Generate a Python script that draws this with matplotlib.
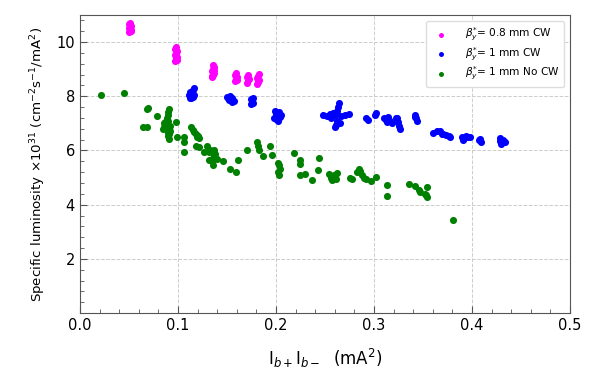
import matplotlib
matplotlib.use("Agg")
import matplotlib.pyplot as plt
from matplotlib.ticker import MultipleLocator

# Series: beta_y* = 0.8 mm CW
cw08_x = [0.050, 0.051, 0.052, 0.050, 0.051, 0.052, 0.050, 0.051, 0.052, 0.051,
          0.097, 0.098, 0.099, 0.097, 0.098, 0.099, 0.097, 0.098, 0.099, 0.098,
          0.135, 0.136, 0.137, 0.135, 0.136, 0.137, 0.136, 0.135, 0.137,
          0.158, 0.159, 0.160, 0.158, 0.159, 0.160,
          0.170, 0.171, 0.172, 0.170, 0.171,
          0.181, 0.182, 0.183, 0.181, 0.182, 0.183]
cw08_y = [10.35, 10.40, 10.45, 10.50, 10.55, 10.60, 10.65, 10.70, 10.42, 10.48,
          9.30, 9.38, 9.45, 9.52, 9.60, 9.68, 9.75, 9.82, 9.35, 9.50,
          8.70, 8.78, 8.85, 8.92, 9.00, 9.08, 9.15, 8.75, 8.95,
          8.55, 8.62, 8.70, 8.78, 8.85, 8.60,
          8.50, 8.58, 8.65, 8.72, 8.78,
          8.45, 8.52, 8.60, 8.68, 8.75, 8.82]

# Series: beta_y* = 1 mm CW
cw1_x = [0.112, 0.113, 0.114, 0.112, 0.115, 0.116, 0.113, 0.111, 0.114, 0.115, 0.116,
         0.151, 0.153, 0.155, 0.152, 0.157, 0.155, 0.150,
         0.175, 0.176, 0.177, 0.175, 0.177,
         0.199, 0.200, 0.201, 0.203, 0.205, 0.200, 0.202, 0.198, 0.204,
         0.248, 0.252, 0.256, 0.260, 0.262, 0.263, 0.264, 0.262, 0.261, 0.260,
         0.266, 0.270, 0.274, 0.258, 0.265, 0.255,
         0.292, 0.294, 0.302, 0.301,
         0.310, 0.312, 0.314, 0.316, 0.318, 0.322, 0.324, 0.325, 0.326, 0.323, 0.313,
         0.342, 0.343, 0.344, 0.342,
         0.360, 0.364, 0.367, 0.370, 0.373, 0.376, 0.378, 0.369,
         0.390, 0.392, 0.394, 0.396, 0.398, 0.391,
         0.407, 0.409, 0.408,
         0.428, 0.430, 0.432, 0.434, 0.429]
cw1_y = [7.92, 8.00, 8.08, 8.15, 8.22, 8.32, 7.95, 8.05, 8.12, 7.98, 8.05,
         7.95, 8.02, 7.92, 7.85, 7.82, 7.78, 7.98,
         7.90, 7.82, 7.74, 7.70, 7.95,
         7.45, 7.35, 7.25, 7.40, 7.30, 7.15, 7.08, 7.20, 7.22,
         7.30, 7.28, 7.20, 7.30, 7.45, 7.60, 7.75, 7.10, 6.95, 6.85,
         7.28, 7.30, 7.35, 7.38, 7.00, 7.35,
         7.20, 7.14, 7.38, 7.32,
         7.20, 7.12, 7.22, 7.10, 7.00, 7.18, 7.05, 6.90, 6.80, 7.20, 7.05,
         7.32, 7.20, 7.10, 7.25,
         6.65, 6.70, 6.72, 6.62, 6.58, 6.55, 6.50, 6.60,
         6.50, 6.45, 6.55, 6.48, 6.50, 6.40,
         6.38, 6.32, 6.42,
         6.35, 6.25, 6.40, 6.32, 6.45]

# Series: beta_y* = 1 mm No CW
nocw_x = [0.021, 0.0445, 0.069, 0.068, 0.079, 0.064, 0.068,
          0.086, 0.085, 0.088, 0.089, 0.090, 0.089, 0.090, 0.090, 0.091, 0.088,
          0.089, 0.090, 0.090, 0.091, 0.092, 0.087, 0.091, 0.092, 0.086,
          0.098, 0.099, 0.106, 0.106, 0.106,
          0.113, 0.115, 0.116, 0.118, 0.119, 0.121, 0.120, 0.118, 0.121, 0.127,
          0.130, 0.133, 0.132, 0.137, 0.137, 0.138, 0.136, 0.140, 0.132, 0.135,
          0.136, 0.146, 0.153, 0.159, 0.161, 0.170,
          0.181, 0.182, 0.183, 0.187, 0.194, 0.196, 0.202, 0.203, 0.202, 0.203, 0.204,
          0.218, 0.224, 0.224, 0.225, 0.230, 0.237, 0.243, 0.244,
          0.254, 0.256, 0.257, 0.259, 0.261, 0.262,
          0.276, 0.278, 0.283, 0.285, 0.286, 0.288, 0.290, 0.292, 0.297, 0.302,
          0.313, 0.313, 0.336, 0.342, 0.346, 0.347, 0.354, 0.353, 0.354, 0.352, 0.381]
nocw_y = [8.03, 8.13, 7.57, 7.52, 7.28, 6.85, 6.88,
          6.85, 6.80, 6.90, 7.00, 7.10, 7.20, 7.30, 7.40, 7.52, 6.95,
          6.75, 6.65, 6.55, 6.43, 6.70, 7.05, 6.60, 6.90, 7.00,
          7.04, 6.49, 6.49, 6.30, 5.94,
          6.85, 6.75, 6.68, 6.60, 6.50, 6.45, 6.55, 6.18, 6.12, 5.94,
          6.15, 6.00, 5.93, 6.00, 5.85, 5.88, 5.72, 5.68, 5.63, 5.60,
          5.45, 5.60, 5.33, 5.20, 5.66, 6.00,
          6.30, 6.15, 6.00, 5.80, 6.16, 5.82, 5.55, 5.45, 5.20, 5.08, 5.30,
          5.91, 5.66, 5.50, 5.08, 5.14, 4.90, 5.27, 5.73,
          5.15, 5.00, 4.90, 5.10, 4.95, 5.18,
          5.00, 4.95, 5.20, 5.30, 5.25, 5.10, 5.00, 4.95, 4.87, 5.02,
          4.73, 4.32, 4.78, 4.68, 4.55, 4.45, 4.65, 4.35, 4.27, 4.40, 3.43]

labels = [r"$\beta_y^{*}$= 0.8 mm CW", r"$\beta_y^{*}$= 1 mm CW", r"$\beta_y^{*}$= 1 mm No CW"]
colors = ["#ff00ff", "#0000ff", "#008000"]

fig = plt.figure(figsize=(5.92, 3.81), dpi=100)
ax = fig.add_axes([0.135, 0.178, 0.828, 0.783])

for xs, ys, lab, c in zip([cw08_x, cw1_x, nocw_x], [cw08_y, cw1_y, nocw_y], labels, colors):
    ax.scatter(xs, ys, s=26, color=c, label=lab, zorder=3, linewidths=0)

ax.set_xlim(0, 0.5)
ax.set_ylim(0, 11)
ax.set_xticks([0.0, 0.1, 0.2, 0.3, 0.4, 0.5])
ax.set_yticks([2, 4, 6, 8, 10])
ax.xaxis.set_minor_locator(MultipleLocator(0.02))
ax.yaxis.set_minor_locator(MultipleLocator(0.4))
ax.tick_params(which="both", direction="in", labelsize=10.5, colors="#555555", labelcolor="black")
ax.tick_params(which="major", length=5)
ax.tick_params(which="minor", length=3)
ax.grid(True, which="major", linestyle="--", color="#cccccc", linewidth=0.7)
for sp in ax.spines.values():
    sp.set_color("#555555")

ax.set_xlabel(r"I$_{b+}$I$_{b-}$  (mA$^2$)", fontsize=12, labelpad=10)
ax.set_ylabel(r"Specific luminosity $\times$10$^{31}$ (cm$^{-2}$s$^{-1}$/mA$^2$)", fontsize=9.6, labelpad=6)

ax.legend(loc="upper right", fontsize=7.6, markerscale=0.7, framealpha=1,
          edgecolor="#dddddd", borderpad=0.45, labelspacing=0.2,
          handletextpad=1.2, borderaxespad=0.6)

fig.savefig("out.png", dpi=100)
